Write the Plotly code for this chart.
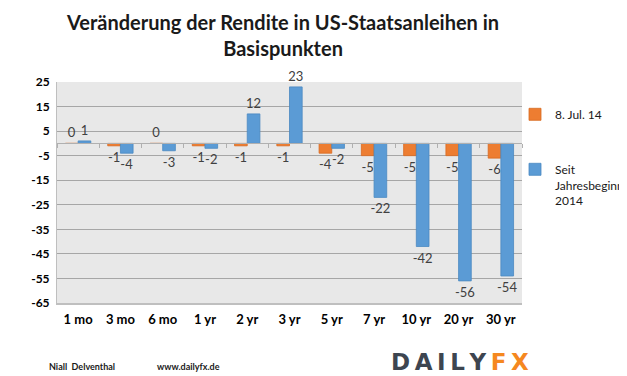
import plotly.graph_objects as go

categories = ["1 mo", "3 mo", "6 mo", "1 yr", "2 yr", "3 yr", "5 yr", "7 yr", "10 yr", "20 yr", "30 yr"]
jul_8_14 = [0, -1, 0, -1, -1, -1, -4, -5, -5, -5, -6]
since_2014 = [1, -4, -3, -2, 12, 23, -2, -22, -42, -56, -54]
y_ticks = [25, 15, 5, -5, -15, -25, -35, -45, -55, -65]

ORANGE = "#ED7D31"
BLUE = "#5B9BD5"
FONT = "Lato"

# The page body has an 8px margin; figure is sized to the visible area.
W, H = 619, 368
OFF = 8
# plot area in page pixels: x 57..522, y 82..303
PL, PR, PT, PB = 57, 522, 82, 303
def py(pix):
    return (PB - pix) / (PB - PT)
def px(pix):
    return (pix - PL) / (PR - PL)

fig = go.Figure()
fig.add_trace(go.Bar(
    x=categories, y=jul_8_14, name="8. Jul. 14", legendgroup="a",
    marker=dict(color=ORANGE, line=dict(color="#d8691f", width=0.8)),
    text=[str(v) for v in jul_8_14], textposition="outside", constraintext="none",
    textfont=dict(family=FONT, size=13, color="#404040"), cliponaxis=False,
))
fig.add_trace(go.Bar(
    x=categories, y=since_2014, name="Seit<br>Jahresbeginn<br>2014", legendgroup="b",
    marker=dict(color=BLUE, line=dict(color="#4a89c2", width=0.8)),
    text=[str(v) for v in since_2014], textposition="outside", constraintext="none",
    textfont=dict(family=FONT, size=13, color="#404040"), cliponaxis=False,
))

# category-axis line at zero with boundary ticks
fig.add_trace(go.Scatter(x=categories, y=[None]*len(categories), xaxis="x2",
                         showlegend=False, hoverinfo="skip"))

fig.update_layout(
    width=W, height=H,
    margin=dict(l=PL - OFF, r=W - (PR - OFF), t=PT - OFF, b=H - (PB - OFF), autoexpand=False),
    paper_bgcolor="white", plot_bgcolor="#e8e8e8",
    barmode="group", bargap=0.4, bargroupgap=0.0,
    font=dict(family=FONT, color="#000000"),
    xaxis=dict(showgrid=False, showline=True, linecolor="#bfbfbf", linewidth=2,
               tickmode="array", tickvals=categories,
               ticktext=[f"<b>{c}</b>" for c in categories],
               tickfont=dict(family=FONT, size=13, color="#000000"),
               ticklabelstandoff=3, ticks="", automargin=False),
    xaxis2=dict(overlaying="x", anchor="free", position=65/90, side="bottom",
                showline=True, linecolor="#b0b0b0", linewidth=1,
                tickmode="array", tickvals=[i - 0.5 for i in range(len(categories) + 1)],
                ticktext=[""] * (len(categories) + 1), ticks="outside", ticklen=4,
                tickcolor="#b0b0b0", range=[-0.5, len(categories) - 0.5],
                showgrid=False, zeroline=False, automargin=False),
    yaxis=dict(range=[-65, 25], tickmode="array", tickvals=y_ticks,
               ticktext=[f"<b>{v}</b>" for v in y_ticks],
               showgrid=True, gridcolor="#a6a6a6", gridwidth=1, zeroline=False,
               showline=True, linecolor="#bfbfbf", linewidth=1, automargin=False,
               ticklabelstandoff=4,
               tickfont=dict(family=FONT, size=12, color="#000000")),
    legend=dict(x=px(515), y=py(100), xanchor="left", yanchor="top",
                bgcolor="rgba(0,0,0,0)",
                font=dict(family=FONT, size=12, color="#1a1a1a"),
                tracegroupgap=36, traceorder="grouped", itemwidth=30, valign="top"),
    showlegend=True,
)

fig.add_annotation(text="<b>Veränderung der Rendite in US-Staatsanleihen in<br>Basispunkten</b>",
                   xref="paper", yref="paper", x=px(282), y=py(8),
                   xanchor="center", yanchor="top", showarrow=False,
                   font=dict(family=FONT, size=20, color="#1a1a1a"))
fig.add_annotation(text="<b>Niall  Delventhal</b>", xref="paper", yref="paper",
                   x=px(47), y=py(359), xanchor="left", yanchor="top", showarrow=False,
                   font=dict(family=FONT, size=9, color="#1a1a1a"))
fig.add_annotation(text="<b>www.dailyfx.de</b>", xref="paper", yref="paper",
                   x=px(155), y=py(359), xanchor="left", yanchor="top", showarrow=False,
                   font=dict(family=FONT, size=9, color="#1a1a1a"))
logo = "<b><span style='color:#3d4550'>D\u2009A\u2009I\u2009L\u2009Y\u2009</span><span style='color:#f5881f'>F\u2009X</span></b>"
fig.add_annotation(text=logo, xref="paper", yref="paper", x=px(389), y=py(347),
                   xanchor="left", yanchor="top", showarrow=False,
                   font=dict(family="DejaVu Sans", size=23))

fig.write_html("out.html")
